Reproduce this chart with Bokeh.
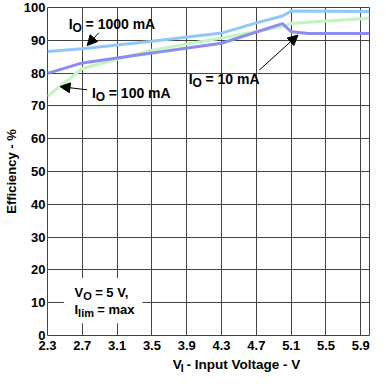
from bokeh.plotting import figure
from bokeh.models import Label, Arrow, NormalHead, BoxAnnotation, FixedTicker, Range1d
from bokeh.layouts import column
from bokeh.core.properties import value
from bokeh.embed import file_html
from bokeh.resources import INLINE

# ---- data ----
vin_1000 = [2.3, 2.7, 3.5, 4.3, 4.7, 5.0, 5.1, 6.0]
eff_1000 = [86.6, 87.4, 89.7, 92.2, 95.3, 97.4, 98.9, 98.8]

vin_10 = [2.3, 2.7, 3.5, 4.3, 5.0, 5.1, 5.3, 6.0]
eff_10 = [79.9, 83.1, 86.1, 89.1, 95.1, 92.6, 92.1, 92.1]

vin_100 = [2.3, 2.7, 3.5, 4.3, 5.0, 5.1, 5.5, 6.0]
eff_100 = [72.9, 81.4, 87.0, 90.7, 94.2, 95.1, 95.9, 96.7]

x_ticks = [2.3, 2.7, 3.1, 3.5, 3.9, 4.3, 4.7, 5.1, 5.5, 5.9]
y_ticks = [0, 10, 20, 30, 40, 50, 60, 70, 80, 90, 100]

FONT = "Liberation Sans"

p = figure(width=370, height=355, output_backend="svg", toolbar_location=None,
           x_range=Range1d(2.3, 6.0), y_range=Range1d(0, 100),
           min_border_left=42, min_border_right=1, min_border_top=7,
           min_border_bottom=20)
p.background_fill_color = "white"
p.border_fill_color = "white"
p.outline_line_color = "#444444"
p.outline_line_width = 1

p.xaxis.ticker = FixedTicker(ticks=x_ticks)
p.yaxis.ticker = FixedTicker(ticks=y_ticks)
for ax in (p.xaxis, p.yaxis):
    ax.axis_line_color = None
    ax.major_tick_line_color = None
    ax.minor_tick_line_color = None
    ax.major_tick_out = 0
    ax.major_tick_in = 0
    ax.minor_tick_out = 0
    ax.minor_tick_in = 0
    ax.major_label_text_font = FONT
    ax.major_label_text_font_style = "bold"
    ax.major_label_text_font_size = "13px"
    ax.major_label_text_color = "black"
    ax.major_label_standoff = 2
p.xaxis.major_label_standoff = 5

p.yaxis.axis_label = "Efficiency - %"
p.yaxis.axis_label_text_font = FONT
p.yaxis.axis_label_text_font_style = "bold"
p.yaxis.axis_label_text_font_size = "13px"
p.yaxis.axis_label_text_color = "black"
p.yaxis.axis_label_standoff = 2

p.xgrid.grid_line_color = "#444444"
p.ygrid.grid_line_color = "#444444"
p.xgrid.grid_line_width = 1
p.ygrid.grid_line_width = 1

# white box behind the conditions note
p.add_layout(BoxAnnotation(left=2.49, right=3.39, bottom=3.7, top=17.5,
                           fill_color="white", fill_alpha=1.0, line_color=None))

p.line(vin_100, eff_100, line_color="#c2f5c2", line_width=3)
p.line(vin_10, eff_10, line_color="#8c8cf5", line_width=3)
p.line(vin_1000, eff_1000, line_color="#90c8fa", line_width=3)

PX_X = 327 / 3.7   # px per volt (approx)
PX_Y = 328 / 100   # px per percent (approx)


def sub_label(x, y, main, sub, rest, size, sub_size, main_w, sub_w, gap, drop=4.0):
    common = dict(text_font=FONT, text_font_style="bold", text_color="black",
                  text_baseline="middle", text_align="left")
    p.add_layout(Label(x=x, y=y, text=main, text_font_size=f"{size}px", **common))
    p.add_layout(Label(x=x + main_w / PX_X, y=y - drop / PX_Y, text=sub,
                       text_font_size=f"{sub_size}px", **common))
    p.add_layout(Label(x=x + (main_w + sub_w + gap) / PX_X, y=y, text=rest,
                       text_font_size=f"{size}px", **common))


sub_label(2.544, 94.9, "I", "O", "= 1000 mA", 14, 12, 3.9, 9.3, 3.9)
sub_label(2.811, 74.0, "I", "O", "= 100 mA", 14, 12, 3.9, 9.3, 3.9)
sub_label(3.922, 78.2, "I", "O", "= 10 mA", 14, 12, 3.9, 9.3, 3.9)
sub_label(2.611, 13.1, "V", "O", "= 5 V,", 13, 11, 8.7, 8.6, 3.6, 3.5)
sub_label(2.611, 8.0, "I", "lim", "= max", 13, 11, 3.6, 15.9, 3.6, 3.5)


def arrow(xs, ys, xe, ye):
    p.add_layout(Arrow(end=NormalHead(size=10, fill_color="black", line_color="black"),
                       x_start=xs, y_start=ys, x_end=xe, y_end=ye,
                       line_color="black", line_width=1))


arrow(2.889, 92.3, 2.756, 88.4)
arrow(2.756, 74.9, 2.444, 75.9)
arrow(4.733, 80.9, 5.178, 91.6)

# x-axis title strip (with subscript)
t = figure(width=370, height=17, output_backend="svg", toolbar_location=None,
           x_range=Range1d(0, 370), y_range=Range1d(0, 17),
           min_border=0, min_border_left=0, min_border_right=0,
           min_border_top=0, min_border_bottom=0)
t.axis.visible = False
t.grid.visible = False
t.outline_line_color = None
t.background_fill_color = "white"
t.border_fill_color = "white"

title_x0 = 144
title_y = 8.5
t.text(x=[title_x0], y=[title_y], text=["V"], text_font=value(FONT), text_font_style="bold",
       text_font_size="13.5px", text_baseline="middle", text_align="left", text_color="black")
t.text(x=[title_x0 + 9.0], y=[title_y - 3.5], text=["I"], text_font=value(FONT),
       text_font_style="bold", text_font_size="10.5px", text_baseline="middle",
       text_align="left", text_color="black")
t.text(x=[title_x0 + 9.0 + 2.9 + 3.8], y=[title_y], text=["- Input Voltage - V"],
       text_font=value(FONT), text_font_style="bold",
       text_font_size="13.5px", text_baseline="middle", text_align="left", text_color="black")

layout = column(p, t, spacing=0)
open("out.html", "w").write(file_html(layout, INLINE))
